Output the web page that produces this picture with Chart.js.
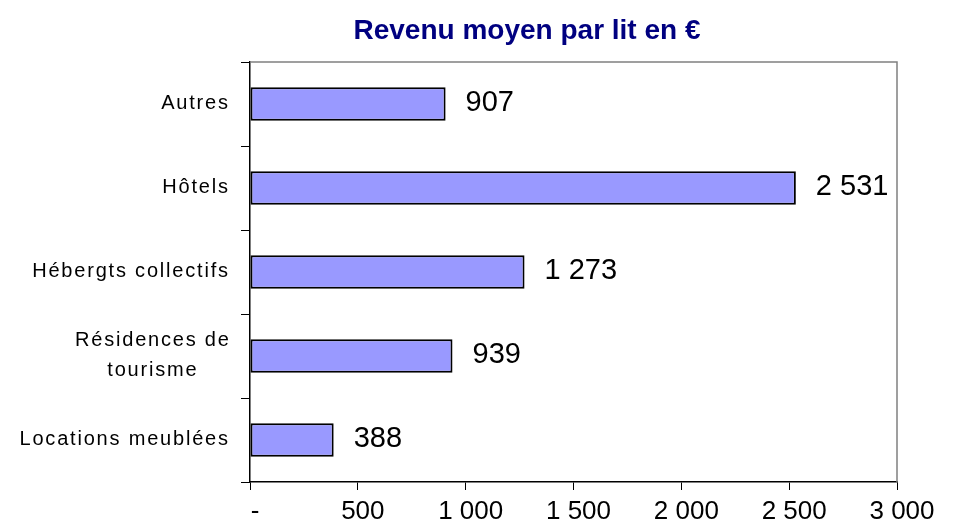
<!DOCTYPE html>
<html lang="fr">
<head>
    <meta charset="UTF-8">
    <title>Revenu moyen par lit en €</title>
    <style>
        html, body { margin: 0; padding: 0; background: #fff; }
        #wrap { width: 953px; height: 531px; position: relative; }
    </style>
    <script src="https://cdn.jsdelivr.net/npm/chart.js"></script>
</head>
<body>
    <div id="wrap"><canvas id="revChart"></canvas></div>

    <script>
        // Data
        const categories = ['Autres', 'Hôtels', 'Hébergts collectifs', ['Résidences de', 'tourisme'], 'Locations meublées'];
        const revenus = [907, 2531, 1273, 939, 388];
        const xTicks = [0, 500, 1000, 1500, 2000, 2500, 3000];

        const FONT = '"Liberation Sans", Arial, sans-serif';

        // French style thousands: "2 531", zero shown as "-"
        function fmt(v) {
            if (v === 0) return '-';
            return String(Math.round(v)).replace(/\B(?=(\d{3})+(?!\d))/g, ' ');
        }

        // Draws the title, the grey frame, the category labels and the value labels
        const extras = {
            id: 'extras',
            afterDatasetsDraw(chart) {
                const ctx = chart.ctx;
                const area = chart.chartArea;
                ctx.save();

                // grey frame top / right
                ctx.strokeStyle = '#808080';
                ctx.lineWidth = 1.5;
                ctx.beginPath();
                ctx.moveTo(area.left, area.top);
                ctx.lineTo(area.right, area.top);
                ctx.lineTo(area.right, area.bottom);
                ctx.stroke();

                // title
                ctx.fillStyle = '#000080';
                ctx.font = 'bold 28px ' + FONT;
                ctx.textAlign = 'center';
                ctx.textBaseline = 'middle';
                ctx.fillText('Revenu moyen par lit en €', 527, 31);

                // category labels (spaced out like the original)
                const yScale = chart.scales.y;
                ctx.fillStyle = '#000';
                ctx.font = '20px ' + FONT;
                ctx.letterSpacing = '1.8px';
                categories.forEach((lab, i) => {
                    const y = yScale.getPixelForValue(i) - 1;
                    if (Array.isArray(lab)) {
                        // multi-line labels are centred on their longest line
                        const w = Math.max(...lab.map(s => ctx.measureText(s).width));
                        ctx.textAlign = 'center';
                        const cx = 229.8 - w / 2;
                        const lh = 30;
                        lab.forEach((ln, k) => {
                            ctx.fillText(ln, cx + 0.9, y + (k - (lab.length - 1) / 2) * lh);
                        });
                    } else {
                        ctx.textAlign = 'right';
                        ctx.fillText(lab, 229.8, y);
                    }
                });
                ctx.letterSpacing = '0px';

                // value labels
                const meta = chart.getDatasetMeta(0);
                ctx.font = '29px ' + FONT;
                ctx.textAlign = 'left';
                meta.data.forEach((bar, i) => {
                    ctx.fillText(fmt(revenus[i]), bar.x + 20, bar.y - 1);
                });
                ctx.restore();
            }
        };

        new Chart(document.getElementById('revChart'), {
            type: 'bar',
            data: {
                labels: categories,
                datasets: [{
                    data: revenus,
                    backgroundColor: '#9999FF',
                    borderColor: '#000',
                    borderWidth: 2,
                    borderSkipped: false,
                    categoryPercentage: 1,
                    barPercentage: 0.4
                }]
            },
            options: {
                indexAxis: 'y',
                responsive: true,
                maintainAspectRatio: false,
                animation: false,
                layout: { padding: { top: 62, right: 56, bottom: 0, left: 0 } },
                plugins: {
                    legend: { display: false },
                    title: { display: false },
                    tooltip: { enabled: false }
                },
                scales: {
                    x: {
                        min: 0,
                        max: 3000,
                        afterBuildTicks(axis) {
                            axis.ticks = xTicks.map(v => ({ value: v }));
                        },
                        afterFit(axis) { axis.height = 49; },
                        border: { display: true, color: '#000', width: 1.5 },
                        grid: {
                            drawOnChartArea: false,
                            drawTicks: true,
                            tickLength: 8,
                            color: '#000'
                        },
                        ticks: {
                            color: '#000',
                            padding: 6,
                            labelOffset: 5,
                            maxRotation: 0,
                            autoSkip: false,
                            font: { family: FONT, size: 26 },
                            callback: v => fmt(v)
                        }
                    },
                    y: {
                        afterFit(axis) { axis.width = 250; },
                        border: { display: true, color: '#000', width: 1.5 },
                        grid: {
                            offset: true,
                            drawOnChartArea: false,
                            drawTicks: true,
                            tickLength: 9,
                            color: '#000'
                        },
                        ticks: {
                            // drawn by the extras plugin
                            color: 'rgba(0,0,0,0)',
                            padding: 20,
                            font: { family: FONT, size: 16 }
                        }
                    }
                }
            },
            plugins: [extras]
        });
    </script>
</body>
</html>
